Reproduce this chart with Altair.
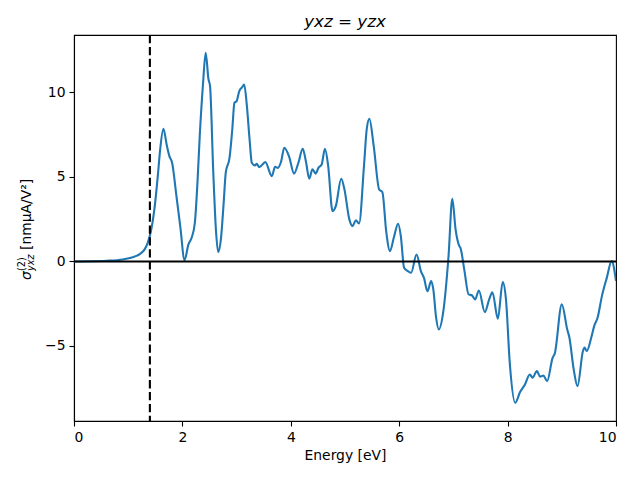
import altair as alt
import pandas as pd

# ---- data ----
energy = [0.0, 0.3, 0.6, 0.9, 1.05, 1.15, 1.22, 1.30, 1.36, 1.42, 1.49, 1.55, 1.59, 1.65,
          1.71, 1.76, 1.81, 1.89, 1.96, 2.04, 2.11, 2.17, 2.23, 2.28, 2.32, 2.38, 2.43,
          2.48, 2.51, 2.57, 2.62, 2.66, 2.71, 2.76, 2.80, 2.87, 2.92, 2.96, 3.00, 3.05,
          3.10, 3.14, 3.19, 3.24, 3.28, 3.34, 3.37, 3.42, 3.53, 3.65, 3.71, 3.76, 3.82,
          3.88, 3.97, 4.06, 4.14, 4.22, 4.28, 4.34, 4.40, 4.46, 4.51, 4.57, 4.63, 4.69,
          4.77, 4.83, 4.93, 4.99, 5.08, 5.14, 5.20, 5.26, 5.35, 5.40, 5.45, 5.53, 5.63,
          5.69, 5.76, 5.83, 5.90, 5.98, 6.03, 6.09, 6.16, 6.22, 6.32, 6.40, 6.46, 6.52,
          6.59, 6.63, 6.68, 6.73, 6.81, 6.91, 6.98, 7.04, 7.11, 7.13, 7.20, 7.28, 7.34,
          7.40, 7.47, 7.58, 7.66, 7.72, 7.82, 7.91, 7.97, 8.04, 8.14, 8.23, 8.32, 8.41,
          8.46, 8.54, 8.60, 8.66, 8.73, 8.83, 8.87, 9.00, 9.10, 9.14, 9.22, 9.29, 9.39,
          9.42, 9.46, 9.55, 9.60, 9.66, 9.74, 9.83, 9.92, 10.0]
sigma = [0.0, 0.01, 0.04, 0.12, 0.22, 0.33, 0.45, 0.7, 1.1, 1.8, 3.27, 5.2, 6.63, 7.85,
         6.9, 6.23, 5.84, 3.87, 2.09, 0.08, 1.0, 1.4, 2.29, 4.8, 7.42, 10.5, 12.35,
         10.8, 10.37, 5.25, 1.8, 0.55, 1.3, 3.4, 5.25, 6.14, 7.8, 9.39, 9.49, 10.08,
         10.3, 10.47, 9.19, 7.2, 5.84, 5.68, 5.78, 5.58, 5.88, 5.05, 5.6, 5.54, 5.9,
         6.73, 6.19, 5.2, 5.84, 6.67, 5.9, 4.9, 5.45, 5.2, 5.54, 5.74, 6.67, 5.64,
         2.98, 3.27, 4.89, 4.26, 2.49, 2.09, 2.44, 2.25, 5.64, 7.8, 8.44, 6.82, 4.26,
         4.1, 1.79, 0.61, 1.4, 2.23, 1.5, -0.37, -0.57, -0.67, 0.41, -0.57, -1.0, -1.76,
         -1.16, -1.67, -3.3, -4.02, -3.04, 0.31, 3.71, 1.9, 0.91, 0.81, -0.47, -1.95, -2.0,
         -2.25, -1.72, -3.0, -2.25, -1.82, -3.39, -1.22, -2.25, -6.0, -8.36, -7.73, -7.28, -6.69,
         -6.88, -6.49, -6.82, -6.75, -7.08, -5.7, -5.45, -2.54, -4.02, -4.5, -6.4, -7.38, -5.3,
         -5.1, -5.3, -4.42, -3.8, -3.33, -2.05, -0.97, 0.02, -1.15]
gap_energy = [1.4]
zero_level = [0.0]
x_ticks = [0, 2, 4, 6, 8, 10]
y_ticks = [-5, 0, 5, 10]
x_domain = [0, 10]
y_domain = [-9.44, 13.4]

title_text = "yxz = yzx"
x_title = "Energy [eV]"

FONT = "DejaVu Sans"
BLUE = "#1f77b4"
W, H = 542, 386

df = pd.DataFrame({"e": energy, "s": sigma})

xs = alt.Scale(domain=x_domain, nice=False, zero=False)
ys = alt.Scale(domain=y_domain, nice=False, zero=False)

xaxis = alt.Axis(values=x_ticks, title=x_title, grid=False, format="d",
                 titleFont=FONT, titleFontSize=13.9, titleFontWeight="normal",
                 titleColor="black", titlePadding=5)
yaxis = alt.Axis(values=y_ticks, title="", grid=False, format="d")

curve = alt.Chart(df).mark_line(color=BLUE, strokeWidth=2.1, clip=True,
                                interpolate="monotone").encode(
    x=alt.X("e:Q", scale=xs, axis=xaxis),
    y=alt.Y("s:Q", scale=ys, axis=yaxis),
    order="e:Q",
)

hline = alt.Chart(pd.DataFrame({"s": zero_level})).mark_rule(
    color="black", strokeWidth=2.1).encode(
    y=alt.Y("s:Q", scale=ys))

vline = alt.Chart(pd.DataFrame({"e": gap_energy})).mark_rule(
    color="black", strokeWidth=2.1, strokeDash=[8.3, 3.6]).encode(
    x=alt.X("e:Q", scale=xs))

title = alt.Chart(pd.DataFrame({"t": [title_text]})).mark_text(
    font=FONT, fontSize=16.7, fontStyle="italic", align="center",
    baseline="alphabetic", color="black").encode(
    text="t:N", x=alt.value(W / 2), y=alt.value(-8))

# composed y-axis label: sigma^(2)_yxz [nm muA/V^2]
def vtext(txt, x, y, size, style="normal"):
    return alt.Chart(pd.DataFrame({"t": [txt]})).mark_text(
        font=FONT, fontSize=size, fontStyle=style, angle=270, align="left",
        baseline="alphabetic", color="black").encode(
        text="t:N", x=alt.value(x), y=alt.value(y))

ylab = (vtext("σ", -43, 245, 13.9, "italic")
        + vtext("(2)", -49, 236, 9.7)
        + vtext("yxz", -40, 236, 9.7, "italic")
        + vtext("[nmμA/V²]", -43, 215, 13.9))

chart = alt.layer(curve, hline, vline, title, ylab).properties(
    width=W, height=H,
    autosize=alt.AutoSizeParams(type="none"),
    padding={"left": 66, "top": 27, "right": 16, "bottom": 51},
).configure_view(stroke="black", strokeWidth=1.1).configure_axis(
    domainColor="black", domainWidth=1.1, tickColor="black", tickWidth=1.1,
    tickSize=5, labelPadding=4, labelFont=FONT, labelFontSize=13.9,
    labelColor="black",
)

chart.save("out.html", embed_options={"renderer": "svg", "actions": False})
